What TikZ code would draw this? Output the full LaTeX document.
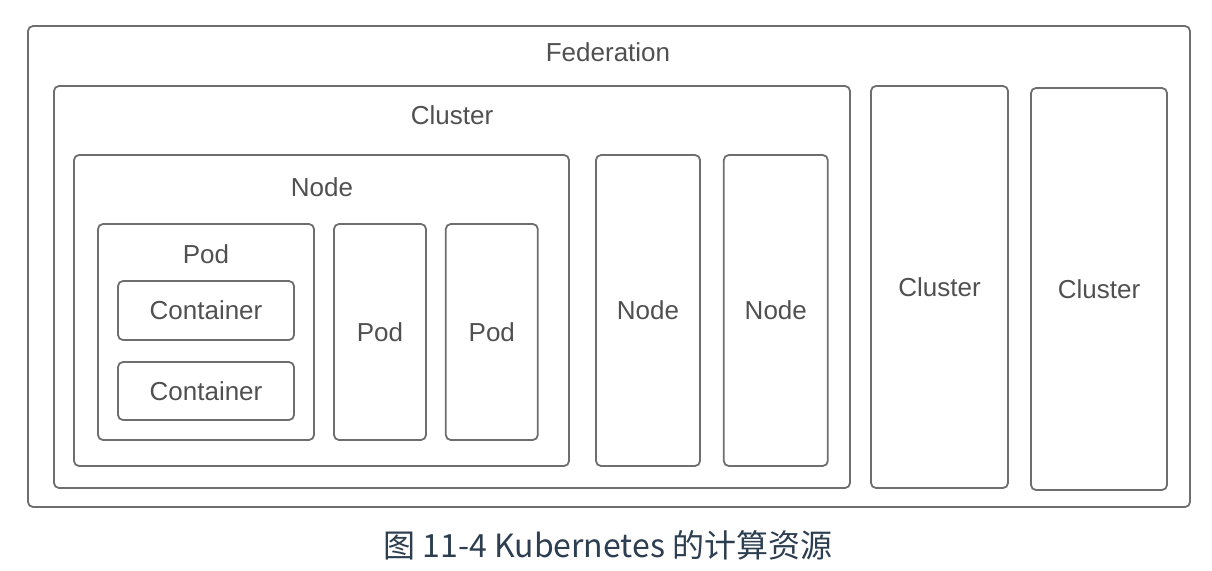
\documentclass[tikz,border=0pt]{standalone}
\usepackage{fontspec}
\setmainfont{Liberation Sans}
\newfontfamily\cjkfont{Noto Sans CJK SC}
\usetikzlibrary{positioning}
\definecolor{linegray}{HTML}{6E6E6E}
\definecolor{textgray}{HTML}{505050}
\definecolor{captionblue}{HTML}{2C3E50}
\begin{document}
\begin{tikzpicture}[x=1pt, y=-1pt, box/.style = {draw=linegray, line width=1.8pt, rounded corners=5pt, inner sep=0pt},
    title/.style = {text=textgray, font=\fontsize{26}{30}\selectfont}]
    \useasboundingbox (0,0) rectangle (1212,570);

    \node[box, minimum width=1162pt, minimum height=481pt] (fed) at (609,266.5) {};
    \node[title] (fedlabel) at (608,52) {Federation};

    \node[box, minimum width=796pt, minimum height=402pt] (cl1) at (452,287) {};
    \node[title] (cl1label) at (452,115) {Cluster};
    \node[box, title, minimum width=137pt, minimum height=402pt] (cl2) at (939.5,287) {Cluster};
    \node[box, title, minimum width=136pt, minimum height=402pt] (cl3) at (1099,289) {Cluster};

    \node[box, minimum width=495pt, minimum height=311pt] (nd1) at (321.5,310.5) {};
    \node[title] (nd1label) at (322,187) {Node};
    \node[box, title, minimum width=104pt, minimum height=311pt] (nd2) at (648,310.5) {Node};
    \node[box, title, minimum width=104pt, minimum height=311pt] (nd3) [right=22pt of nd2] {Node};

    \node[box, minimum width=216pt, minimum height=216pt] (pd1) at (206,332) {};
    \node[title] (pd1label) at (206,254) {Pod};
    \node[box, title, minimum width=92pt, minimum height=216pt] (pd2) at (380,332) {Pod};
    \node[box, title, minimum width=92pt, minimum height=216pt] (pd3) [right=18pt of pd2] {Pod};

    \node[box, title, minimum width=176pt, minimum height=59pt] (ct1) at (206,310.5) {Container};
    \node[box, title, minimum width=176pt, minimum height=58pt] (ct2) at (206,391) {Container};

    \node[text=captionblue, font=\cjkfont\fontsize{32}{36}\selectfont] (caption) at (608,545) {图 11-4 Kubernetes 的计算资源};
\end{tikzpicture}
\end{document}
